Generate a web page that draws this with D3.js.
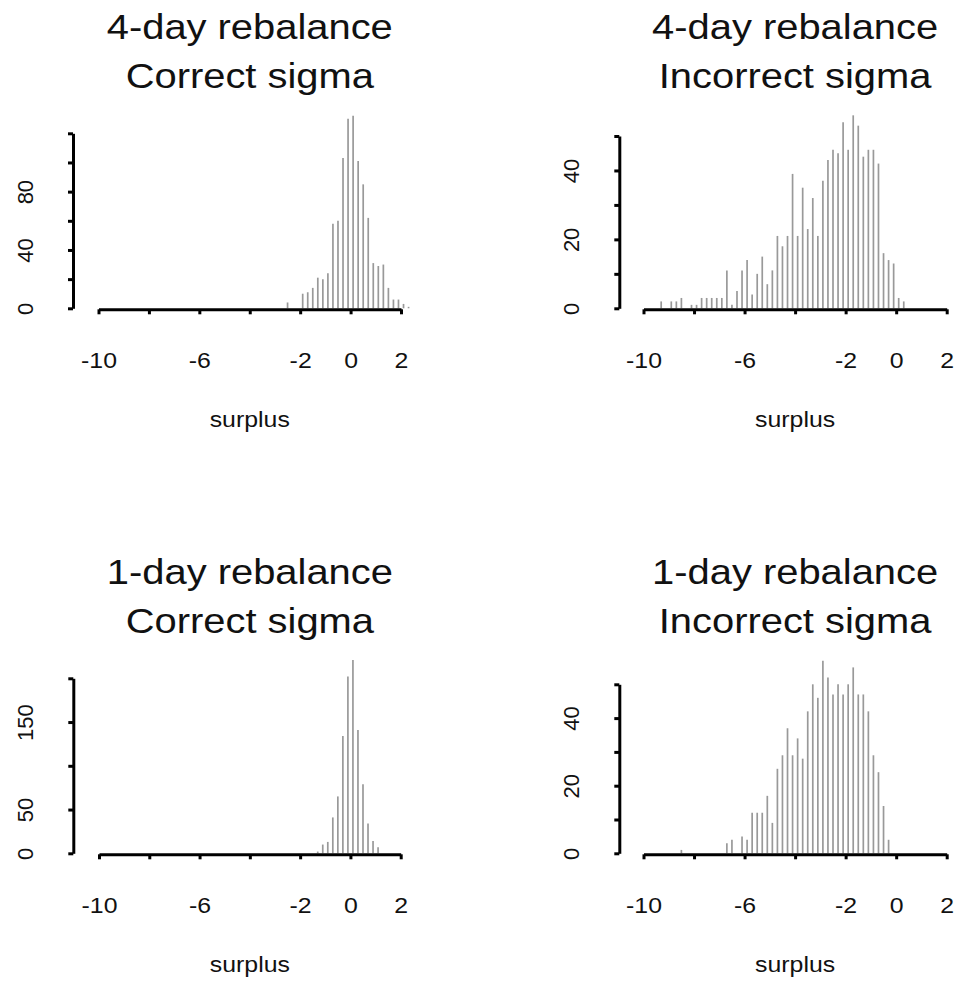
<!DOCTYPE html>
<html>
<head>
<meta charset="utf-8">
<script src="https://cdn.jsdelivr.net/npm/d3@7"></script>
<style>
  body { margin: 0; background: #fff; }
  svg { display: block; }
</style>
</head>
<body>
<div id="chart"></div>
<script>
// histogram bin mid points and counts
var mids4Correct = [-2.5, -1.9, -1.7, -1.5, -1.3, -1.1, -0.9, -0.7, -0.5, -0.3, -0.1,
    0.1, 0.3, 0.5, 0.7, 0.9, 1.1, 1.3, 1.5, 1.7, 1.9, 2.1, 2.3];
var counts4Correct = [4, 10, 11, 14, 21, 20, 24, 58, 60, 103, 130,
    132, 101, 85, 62, 31, 29, 30, 14, 6, 6, 3, 1];

var mids4Incorrect = [-9.3, -8.9, -8.7, -8.5, -8.1, -7.9, -7.7, -7.5, -7.3, -7.1, -6.9,
    -6.7, -6.5, -6.3, -6.1, -5.9, -5.7, -5.5, -5.3, -5.1, -4.9, -4.7, -4.5, -4.3, -4.1,
    -3.9, -3.7, -3.5, -3.3, -3.1, -2.9, -2.7, -2.5, -2.3, -2.1, -1.9, -1.7, -1.5, -1.3,
    -1.1, -0.9, -0.7, -0.5, -0.3, -0.1, 0.1, 0.3];
var counts4Incorrect = [2, 2, 2, 3, 1, 1, 3, 3, 3, 3, 3,
    11, 1, 5, 11, 14, 4, 10, 15, 7, 11, 21, 18, 21, 39,
    21, 35, 23, 32, 21, 37, 43, 46, 45, 54, 46, 56, 53, 44,
    46, 46, 42, 16, 14, 13, 3, 2];

var mids1Correct = [-1.3, -1.1, -0.9, -0.7, -0.5, -0.3, -0.1, 0.1, 0.3, 0.5, 0.7, 0.9, 1.1];
var counts1Correct = [2, 10, 13, 41, 65, 134, 202, 221, 141, 79, 34, 14, 7];

var mids1Incorrect = [-8.5, -6.7, -6.5, -6.1, -5.9, -5.7, -5.5, -5.3, -5.1, -4.9, -4.7,
    -4.5, -4.3, -4.1, -3.9, -3.7, -3.5, -3.3, -3.1, -2.9, -2.7, -2.5, -2.3, -2.1, -1.9,
    -1.7, -1.5, -1.3, -1.1, -0.9, -0.7, -0.5, -0.3];
var counts1Incorrect = [1, 3, 4, 5, 4, 12, 12, 12, 17, 9, 25,
    29, 37, 29, 34, 28, 42, 50, 46, 57, 52, 47, 50, 47, 50,
    55, 47, 47, 42, 29, 24, 14, 4];

var xTicks = [-10, -8, -6, -4, -2, 0, 2];
var xLabels = [-10, -6, -2, 0, 2];

var yTicks4Correct = [0, 20, 40, 60, 80, 100, 120];
var yLabels4Correct = [0, 40, 80];
var yTicks4Incorrect = [0, 10, 20, 30, 40, 50];
var yLabels4Incorrect = [0, 20, 40];
var yTicks1Correct = [0, 50, 100, 150, 200];
var yLabels1Correct = [0, 50, 150];
var yTicks1Incorrect = [0, 10, 20, 30, 40, 50];
var yLabels1Incorrect = [0, 20, 40];

var totalWidth = 958,
    totalHeight = 983;

var fontFamily = "'Liberation Sans', Arial, sans-serif";

var panels = [
    { title: ["4-day rebalance", "Correct sigma"], mids: mids4Correct, counts: counts4Correct,
      yTicks: yTicks4Correct, yLabels: yLabels4Correct,
      xLeft: 98.5, xRight: 401, axisX: 73, yBase: 308.3, yTopPx: 133.3, titleY: 38.5 },
    { title: ["4-day rebalance", "Incorrect sigma"], mids: mids4Incorrect, counts: counts4Incorrect,
      yTicks: yTicks4Incorrect, yLabels: yLabels4Incorrect,
      xLeft: 643.5, xRight: 946.7, axisX: 619.3, yBase: 308.3, yTopPx: 136, titleY: 38.5 },
    { title: ["1-day rebalance", "Correct sigma"], mids: mids1Correct, counts: counts1Correct,
      yTicks: yTicks1Correct, yLabels: yLabels1Correct,
      xLeft: 99, xRight: 400.7, axisX: 73.3, yBase: 853.3, yTopPx: 678.3, titleY: 583.5 },
    { title: ["1-day rebalance", "Incorrect sigma"], mids: mids1Incorrect, counts: counts1Incorrect,
      yTicks: yTicks1Incorrect, yLabels: yLabels1Incorrect,
      xLeft: 643.5, xRight: 946.7, axisX: 619.3, yBase: 853.3, yTopPx: 684.3, titleY: 583.5 }
];

var svg = d3.select("#chart").append("svg")
    .attr("width", totalWidth)
    .attr("height", totalHeight)
    .style("font-family", fontFamily);

function drawPanel(p) {
    var xScale = d3.scaleLinear().domain([-10, 2]).range([p.xLeft, p.xRight]);
    var yMax = p.yTicks[p.yTicks.length - 1];
    var yScale = d3.scaleLinear().domain([0, yMax]).range([p.yBase, p.yTopPx]);
    var cx = (p.xLeft + p.xRight) / 2;

    var g = svg.append("g");

    // spikes
    g.selectAll("line.bar")
        .data(p.mids)
        .enter().append("line")
        .attr("class", "bar")
        .attr("x1", function(d) { return xScale(d); })
        .attr("x2", function(d) { return xScale(d); })
        .attr("y1", yScale(0))
        .attr("y2", function(d, i) { return yScale(p.counts[i]); })
        .attr("stroke", "#999")
        .attr("stroke-width", 1.7);

    // x axis
    var xAxis = d3.axisBottom(xScale)
        .tickValues(xTicks)
        .tickSize(5)
        .tickSizeOuter(0)
        .tickFormat(function(d) { return xLabels.indexOf(d) >= 0 ? String(d) : ""; });

    var gx = g.append("g")
        .attr("transform", "translate(0," + (p.yBase + 1) + ")")
        .attr("font-family", fontFamily)
        .call(xAxis);
    gx.select(".domain").attr("stroke", "#000").attr("stroke-width", 3);
    gx.selectAll(".tick line").attr("stroke", "#000").attr("stroke-width", 3);
    gx.selectAll(".tick text")
        .attr("y", 59)
        .attr("dy", null)
        .attr("fill", "#111")
        .attr("transform", "scale(1.13,1)")
        .style("font-size", "22px");

    // y axis
    var yAxis = d3.axisLeft(yScale)
        .tickValues(p.yTicks)
        .tickSize(5)
        .tickSizeOuter(0)
        .tickFormat(function(d) { return p.yLabels.indexOf(d) >= 0 ? String(d) : ""; });

    var gy = g.append("g")
        .attr("transform", "translate(" + p.axisX + ",0)")
        .attr("font-family", fontFamily)
        .call(yAxis);
    gy.select(".domain").attr("stroke", "#000").attr("stroke-width", 3);
    gy.selectAll(".tick line").attr("stroke", "#000").attr("stroke-width", 3);
    gy.selectAll(".tick text")
        .attr("x", 0)
        .attr("y", -40)
        .attr("dy", null)
        .attr("fill", "#111")
        .attr("text-anchor", "middle")
        .attr("transform", "rotate(-90)")
        .style("font-size", "22px");

    // x label
    g.append("text")
        .attr("transform", "translate(" + cx + "," + (p.yBase + 118.5) + ") scale(1.13,1)")
        .attr("text-anchor", "middle")
        .attr("fill", "#111")
        .style("font-size", "22px")
        .text("surplus");

    // two-line title
    p.title.forEach(function(t, i) {
        g.append("text")
            .attr("transform", "translate(" + cx + "," + (p.titleY + i * 49) + ") scale(1.14,1)")
            .attr("text-anchor", "middle")
            .attr("fill", "#111")
            .style("font-size", "35px")
            .text(t);
    });
}

panels.forEach(drawPanel);
</script>
</body>
</html>
